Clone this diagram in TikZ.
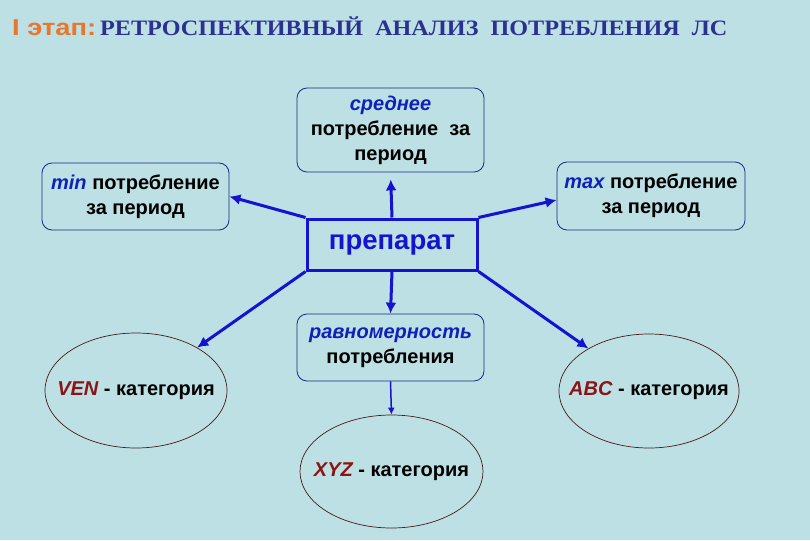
\documentclass[tikz,border=0pt]{standalone}
\usepackage{fontspec}
\setmainfont{Liberation Sans}
\newfontfamily\titleserif{Liberation Serif}
\usetikzlibrary{arrows.meta,shapes.geometric}
\definecolor{bg}{HTML}{BCE0E4}
\definecolor{titleorange}{HTML}{E8762C}
\definecolor{titleblue}{HTML}{2B3190}
\definecolor{arrblue}{HTML}{1414D0}
\definecolor{boxline}{HTML}{1A2A80}
\definecolor{keyblue}{HTML}{1020B8}
\definecolor{darkred}{HTML}{8A1416}
\definecolor{ellline}{HTML}{4A1A1A}
\tikzset{
  infobox/.style={draw=boxline, line width=0.8pt, rounded corners=10pt, fill=bg,
    align=center, inner sep=2pt, font=\fontsize{20pt}{25pt}\selectfont\bfseries},
  catell/.style={draw=ellline, line width=0.7pt, ellipse, inner sep=0pt, fill=bg,
    font=\fontsize{20pt}{24pt}\selectfont\bfseries},
  prepbox/.style={draw=arrblue, line width=3pt, fill=bg, inner sep=0pt,
    font=\fontsize{27.5pt}{32pt}\selectfont\bfseries, text=arrblue},
  arr/.style={draw=arrblue, line width=3pt, -{Latex[length=11pt,width=11pt]}},
  thinarr/.style={draw=arrblue, line width=1.5pt, -{Latex[length=7pt,width=7pt]}},
}
\newcommand{\kw}[1]{\textcolor{keyblue}{\itshape #1}}
\newcommand{\kr}[1]{\textcolor{darkred}{\itshape #1}}
\newcommand{\catlabel}[1]{\makebox[0pt]{\kr{#1} - категория}}
\begin{document}
\begin{tikzpicture}[x=1pt,y=-1pt]
\fill[bg] (0,0) rectangle (810,540);
\useasboundingbox (0,0) rectangle (810,540);
\node[anchor=base west, inner sep=0pt, text=titleorange] (t1) at (12,36)
  {\resizebox{84pt}{\height}{\fontsize{23pt}{27pt}\selectfont\bfseries I этап:}};
\node[anchor=base west, inner sep=0pt, text=titleblue] (t2) at (100,36)
  {\resizebox{627pt}{\height}{\fontsize{22pt}{27pt}\titleserif\bfseries РЕТРОСПЕКТИВНЫЙ\ \ АНАЛИЗ\ \ ПОТРЕБЛЕНИЯ\ \ ЛС}};

\node[infobox, minimum width=187pt, minimum height=84pt] (avg) at (390.5,130)
  {\kw{среднее}\\потребление\ \ за\\период};
\node[infobox, minimum width=187pt, minimum height=67pt] (minb) at (135.5,196.5)
  {\kw{min} потребление\\за период};
\node[infobox, minimum width=188pt, minimum height=68pt] (maxb) at (651,196)
  {\kw{max} потребление\\за период};
\node[prepbox, minimum width=170pt, minimum height=51pt] (prep) at (392,244.5) {препарат};
\node[infobox, minimum width=187pt, minimum height=67pt] (rav) at (390.5,347.5)
  {\kw{равномерность}\\потребления};
\node[catell, minimum width=182pt, minimum height=115pt] (ven) at (136,390.5) {\catlabel{VEN}};
\node[catell, minimum width=180pt, minimum height=114pt] (abc) at (649,391) {\catlabel{ABC}};
\node[catell, minimum width=183pt, minimum height=113pt] (xyz) at (391.5,471.5) {\catlabel{XYZ}};

\draw[arr, shorten >=7pt] (prep.north) -- (avg.south);
\draw[arr] (prep.north west) -- (minb.east);
\draw[arr] (prep.north east) -- ([yshift=-4pt]maxb.west);
\draw[arr] (prep.south) -- (rav.north);
\draw[arr] (prep.south west) -- (ven);
\draw[arr] (prep.south east) -- (abc);
\draw[thinarr] (rav.south) -- (xyz.north);
\end{tikzpicture}
\end{document}
